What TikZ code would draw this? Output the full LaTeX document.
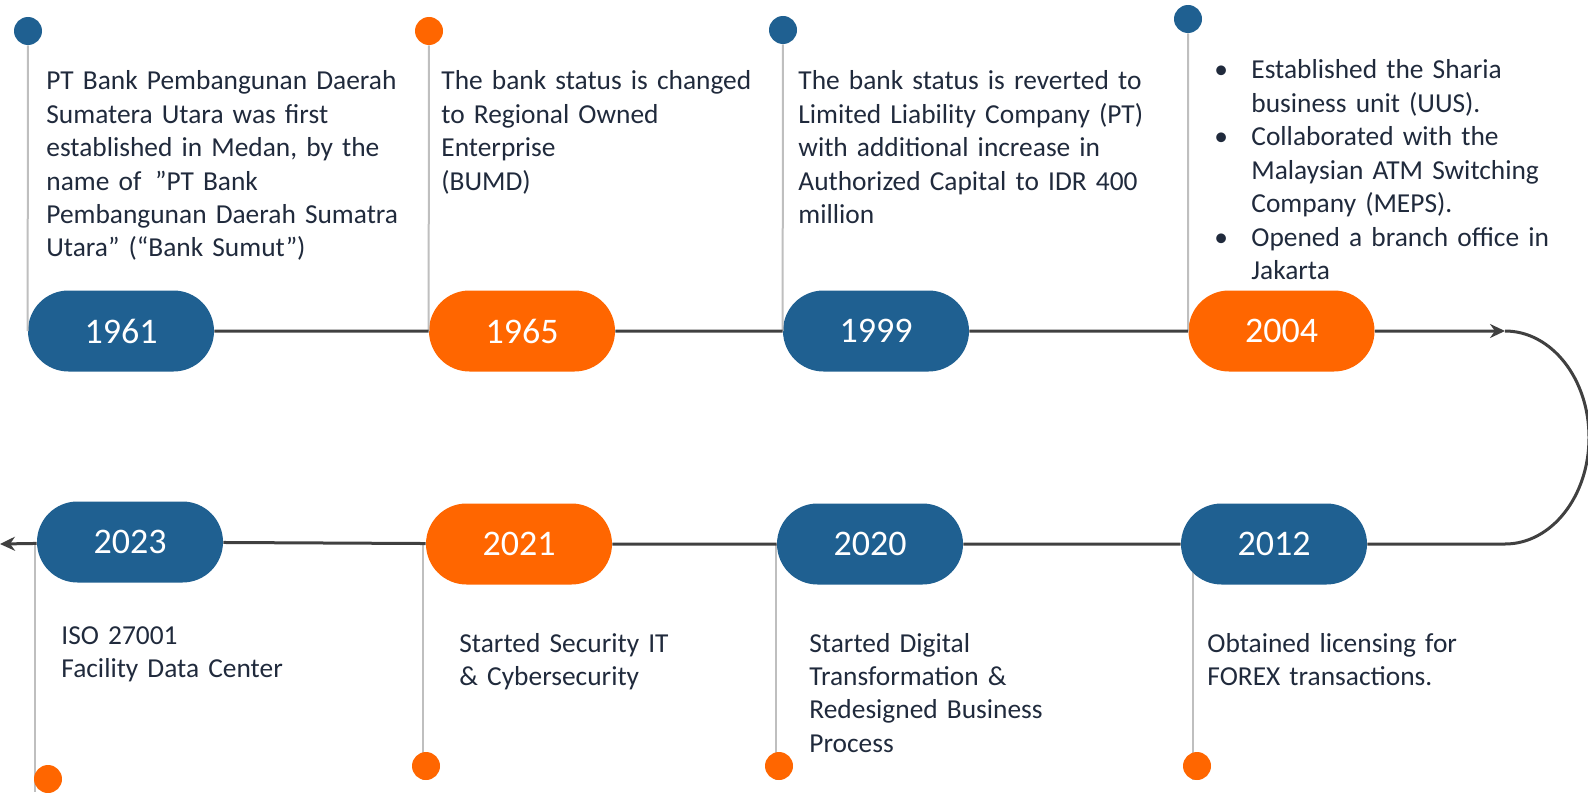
\documentclass[tikz,border=0pt]{standalone}
\usepackage{fontspec}
\setmainfont{Carlito}
\usetikzlibrary{arrows.meta,shapes.misc}
\definecolor{pillblue}{RGB}{31,96,145}
\definecolor{pillorange}{RGB}{255,102,0}
\definecolor{navytext}{RGB}{32,42,60}
\definecolor{stemgrey}{RGB}{191,191,191}
\definecolor{trackgrey}{RGB}{64,64,64}
\newcommand{\tlbullet}{\hangindent=18.5pt\hangafter=1\noindent\makebox[18.5pt][l]{•}}
\tikzset{
  pill/.style={rounded rectangle, minimum width=93pt, minimum height=40.5pt, inner sep=0pt,
    text=white, font=\fontsize{18}{20}\selectfont},
  dot/.style={circle, minimum size=14pt, inner sep=0pt},
  stem/.style={stemgrey, line width=1pt},
  track/.style={trackgrey, line width=1.5pt},
  desc/.style={anchor=base west, inner sep=0pt, text=navytext, align=left, text width=190pt,
    font=\fontsize{13.7}{16.7}\selectfont}
}
\begin{document}
\begin{tikzpicture}[x=0.5pt,y=-0.5pt]
    \useasboundingbox (0,0) rectangle (1588,792);
    % lower stems, under the pills
    \coordinate (s2012a) at (1193,544);
    \coordinate (s2012b) at (1193,780);
    \coordinate (s2020a) at (776,544);
    \coordinate (s2020b) at (776,780);
    \coordinate (s2021a) at (423,544);
    \coordinate (s2021b) at (423,780);
    \coordinate (s2023a) at (35,544);
    \coordinate (s2023b) at (35,792);
    \draw[stem] (s2012a) -- (s2012b);
    \draw[stem] (s2020a) -- (s2020b);
    \draw[stem] (s2021a) -- (s2021b);
    \draw[stem] (s2023a) -- (s2023b);

    % upper row
    \node[pill, fill=pillblue] (p1961) at (121,331) {1961};
    \node[pill, fill=pillorange] (p1965) at (522,331) {1965};
    \node[pill, fill=pillblue] (p1999) at (876,331) {1999};
    \node[pill, fill=pillorange] (p2004) at (1281.5,331) {2004};
    \node[dot, fill=pillblue] (d1961) at (28,31) {};
    \node[dot, fill=pillorange] (d1965) at (429,31) {};
    \node[dot, fill=pillblue] (d1999) at (783,30) {};
    \node[dot, fill=pillblue] (d2004) at (1188,19) {};
    \draw[stem] (d1961) -- (p1961.west);
    \draw[stem] (d1965) -- (p1965.west);
    \draw[stem] (d1999) -- (p1999.west);
    \draw[stem] (d2004) -- (p2004.west);
    \node[desc] (t1961) at (46,90) {PT Bank Pembangunan Daerah\\ Sumatera Utara was first\\
      established in Medan, by the\\ name of \,”PT Bank\\ Pembangunan Daerah Sumatra\\
      Utara” (“Bank Sumut”)};
    \node[desc] (t1965) at (441,90) {The bank status is changed\\ to Regional Owned\\
      Enterprise\\ (BUMD)};
    \node[desc] (t1999) at (798,90) {The bank status is reverted to\\ Limited Liability Company (PT)\\
      with additional increase in\\ Authorized Capital to IDR 400\\ million};
    \node[desc] (t2004) at (1214,79) {\tlbullet Established the Sharia\newline business unit (UUS).\par
      \tlbullet Collaborated with the\newline Malaysian ATM Switching\newline Company (MEPS).\par
      \tlbullet Opened a branch office in\newline Jakarta\par};

    % lower row
    \node[pill, fill=pillblue] (p2012) at (1274,544) {2012};
    \node[pill, fill=pillblue] (p2020) at (870,544) {2020};
    \node[pill, fill=pillorange] (p2021) at (519,544) {2021};
    \node[pill, fill=pillblue] (p2023) at (130,542) {2023};
    \node[dot, fill=pillorange] (d2012) at (1197,766) {};
    \node[dot, fill=pillorange] (d2020) at (779,766) {};
    \node[dot, fill=pillorange] (d2021) at (426,766) {};
    \node[dot, fill=pillorange] (d2023) at (48,779) {};
    \node[desc] (t2012) at (1207,652) {Obtained licensing for\\ FOREX transactions.};
    \node[desc] (t2020) at (809,652) {Started Digital\\ Transformation \&\\
      Redesigned Business\\ Process};
    \node[desc] (t2021) at (459,652) {Started Security IT\\ \& Cybersecurity};
    \node[desc] (t2023) at (61,644) {ISO 27001\\ Facility Data Center};

    % track
    \coordinate (turnR) at (1505,331);
    \coordinate (endL) at (0,544);
    \draw[track, -{Stealth[length=7.5pt,width=7pt]}] (p1961) -- (p1965) -- (p1999) -- (p2004) -- (turnR);
    \draw[track, -{Stealth[length=7.5pt,width=7pt]}] (turnR)
      arc[start angle=90, end angle=-90, x radius=42pt, y radius=53.25pt]
      -- (p2012) -- (p2020) -- (p2021) -- (p2023) -- (endL);
\end{tikzpicture}
\end{document}
